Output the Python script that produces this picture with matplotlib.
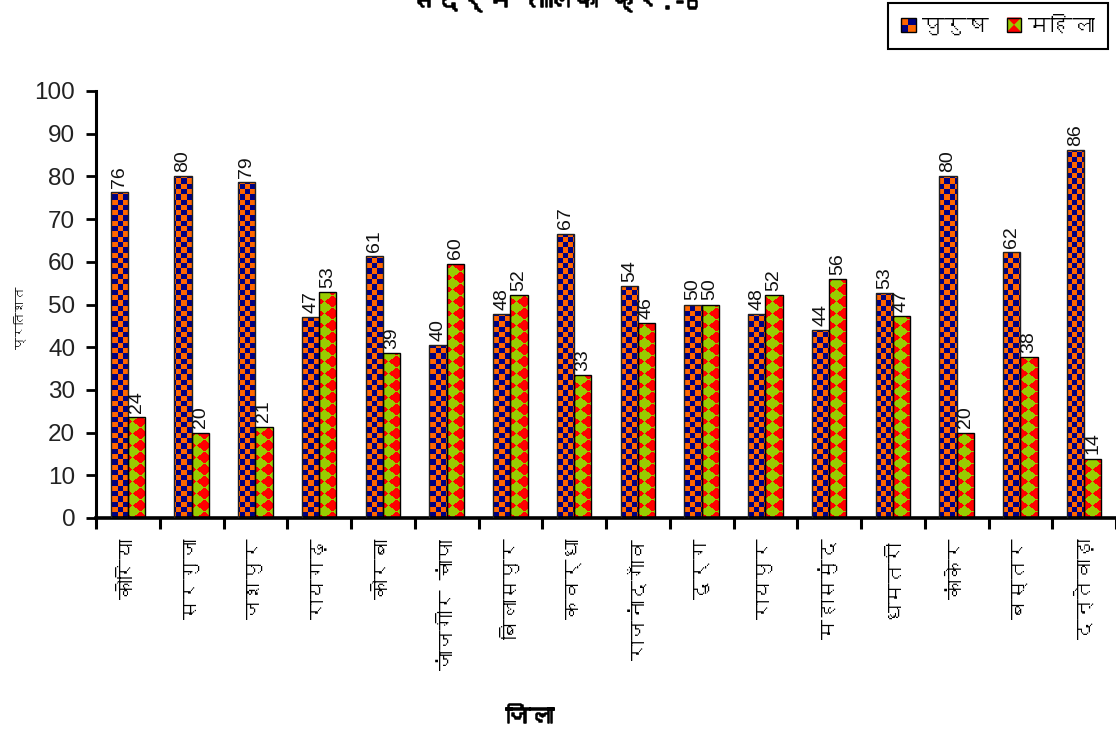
import numpy as np
import matplotlib
matplotlib.use("Agg")
import matplotlib.pyplot as plt
import matplotlib.patheffects as pe
from matplotlib import font_manager, ft2font
from matplotlib.legend_handler import HandlerBase
from matplotlib.patches import Rectangle, Polygon, Patch
from matplotlib.path import Path

# ---------------------------------------------------------------- data
districts = ["कोरिया", "सरगुजा", "जशपुर", "रायगढ़", "कोरबा", "जांजगीर चांपा",
             "बिलासपुर", "कवर्धा", "राजनांदगाँव", "दुर्ग", "रायपुर", "महासमुंद",
             "धमतरी", "कांकेर", "बस्तर", "दन्तेवाड़ा"]
male = [76.3, 80.0, 78.6, 47.1, 61.4, 40.4, 47.8, 66.6,
        54.4, 50.0, 47.8, 44.0, 52.7, 80.0, 62.3, 86.1]
female = [23.7, 20.0, 21.4, 52.9, 38.6, 59.6, 52.2, 33.4,
          45.6, 50.0, 52.2, 56.0, 47.3, 20.0, 37.7, 13.9]
series_names = ["पुरुष", "महिला"]
yticks = [0, 10, 20, 30, 40, 50, 60, 70, 80, 90, 100]
title_text = "संदर्भ तालिका क्र.-6"
xlabel_text = "जिला"
ylabel_text = "प्रतिशत"

NAVY, ORANGE = "#000080", "#ff6600"
GREEN, RED = "#99cc00", "#ff0000"


# ---------------------------------------------------------------- fonts
def find_devanagari_family():
    seen = set()
    for f in font_manager.fontManager.ttflist:
        if f.name in seen:
            continue
        seen.add(f.name)
        try:
            cmap = ft2font.FT2Font(f.fname).get_charmap()
        except Exception:
            continue
        if 0x0915 in cmap:
            return f.name
    return None


deva = find_devanagari_family()
latin = "Liberation Sans"
hindi_family = [deva, latin, "DejaVu Sans"] if deva else [latin, "DejaVu Sans"]
plt.rcParams["font.family"] = [latin, "DejaVu Sans"]
heavy = [pe.withStroke(linewidth=1.1, foreground="black")]

# ---------------------------------------------------------------- figure
W, H, DPI = 1116, 736, 100
fig = plt.figure(figsize=(W / DPI, H / DPI), dpi=DPI)
ax_left, ax_right, ax_top, ax_bottom = 96, 1116, 91, 518
ax = fig.add_axes([ax_left / W, 1 - ax_bottom / H,
                   (ax_right - ax_left) / W, (ax_bottom - ax_top) / H])

n = len(districts)
x = np.arange(n)
bw = 0.27
ax.set_xlim(-0.5, n - 0.5)
ax.set_ylim(0, 100)

bars_m = ax.bar(x - bw / 2, male, bw, facecolor="none", edgecolor="#202020",
                linewidth=1.0, zorder=3)
bars_f = ax.bar(x + bw / 2, female, bw, facecolor="none", edgecolor="#000000",
                linewidth=1.0, zorder=3)

# pixel-space textures for the two series
pw, ph = ax_right - ax_left, ax_bottom - ax_top
cols = np.arange(pw)[None, :]
rows = np.arange(ph)[::-1][:, None]  # row 0 drawn at top

cell = 5.3
checker = ((np.floor(cols / cell) + np.floor(rows / cell)) % 2).astype(bool)
tex_m = np.zeros((ph, pw, 3))
tex_m[checker] = matplotlib.colors.to_rgb(NAVY)
tex_m[~checker] = matplotlib.colors.to_rgb(ORANGE)

P, Q = 16.0, 12.0
dx = np.abs(((cols + 4) % P) - P / 2) / (P / 2)
dy = np.abs((rows % Q) - Q / 2) / (Q / 2)
diamond = (dx + dy) <= 1.0
tex_f = np.zeros((ph, pw, 3))
tex_f[diamond] = matplotlib.colors.to_rgb(GREEN)
tex_f[~diamond] = matplotlib.colors.to_rgb(RED)


def compound_clip(bars):
    paths = [b.get_path().transformed(b.get_patch_transform()) for b in bars]
    return Path.make_compound_path(*paths)


for tex, bars in ((tex_m, bars_m), (tex_f, bars_f)):
    im = ax.imshow(tex, extent=(-0.5, n - 0.5, 0, 100), origin="upper",
                   aspect="auto", interpolation="nearest", zorder=2)
    im.set_clip_path(compound_clip(bars), ax.transData)

# value labels above bars
for xs, vals in ((x - bw / 2, male), (x + bw / 2, female)):
    for xi, v in zip(xs, vals):
        ax.annotate(f"{v:.0f}", (xi, v), xytext=(0, 3), textcoords="offset points",
                    rotation=90, ha="center", va="bottom", fontsize=14,
                    color="#111111", zorder=4)

# axes styling
for s in ("top", "right"):
    ax.spines[s].set_visible(False)
ax.spines["left"].set_linewidth(2.2)
ax.spines["bottom"].set_linewidth(2.6)
ax.set_yticks(yticks)
ax.tick_params(axis="y", direction="out", length=7, width=2, pad=8,
               labelsize=17.5, labelcolor="#222222")
ax.set_xticks(x)
ax.set_xticklabels(districts, rotation=90, ha="center", va="top",
                   fontsize=14.5, family=hindi_family)
ax.set_xticks(np.arange(-0.5, n, 1.0), minor=True)
ax.tick_params(axis="x", which="major", length=0, pad=15)
ax.tick_params(axis="x", which="minor", direction="out", length=8, width=2.2)

# titles and axis captions
fig.text(555 / W, 1 - 9 / H, title_text, ha="center", va="baseline",
         fontsize=18, family=hindi_family, path_effects=heavy)
fig.text(530 / W, 1 - 718 / H, xlabel_text, ha="center", va="center",
         fontsize=17, family=hindi_family, path_effects=heavy)
fig.text(20 / W, 1 - 318 / H, ylabel_text, ha="center", va="center",
         rotation=90, fontsize=9, family=hindi_family)


# ---------------------------------------------------------------- legend
class Swatch(HandlerBase):
    def __init__(self, kind):
        super().__init__()
        self.kind = kind

    def create_artists(self, legend, orig_handle, xdescent, ydescent,
                       width, height, fontsize, trans):
        s = min(width, height)
        x0 = -xdescent + (width - s) / 2
        y0 = -ydescent + (height - s) / 2
        h = s / 2
        arts = []
        if self.kind == "m":
            for (cx, cy, c) in ((0, 1, ORANGE), (1, 1, NAVY), (0, 0, NAVY), (1, 0, ORANGE)):
                arts.append(Rectangle((x0 + cx * h, y0 + cy * h), h, h,
                                      facecolor=c, edgecolor="none", transform=trans))
        else:
            arts.append(Rectangle((x0, y0), s, s, facecolor=GREEN,
                                  edgecolor="none", transform=trans))
            c = (x0 + h, y0 + h)
            arts.append(Polygon([(x0, y0 + s), (x0 + s, y0 + s), c],
                                facecolor=RED, edgecolor="none", transform=trans))
            arts.append(Polygon([(x0, y0), (x0 + s, y0), c],
                                facecolor=RED, edgecolor="none", transform=trans))
        arts.append(Rectangle((x0, y0), s, s, facecolor="none", edgecolor="black",
                              linewidth=1.0, transform=trans))
        return arts


h_m, h_f = Patch(label=series_names[0]), Patch(label=series_names[1])
leg = fig.legend([h_m, h_f], series_names, loc="upper right",
                 bbox_to_anchor=(1108 / W, 1 - 3 / H), ncol=2,
                 handler_map={h_m: Swatch("m"), h_f: Swatch("f")},
                 prop={"family": hindi_family, "size": 16},
                 handlelength=0.65, handleheight=0.65, handletextpad=0.3,
                 columnspacing=0.8, borderpad=0.6, borderaxespad=0,
                 frameon=True, fancybox=False, edgecolor="black", framealpha=1)
leg.get_frame().set_linewidth(1.5)

fig.savefig("out.png", dpi=DPI)
